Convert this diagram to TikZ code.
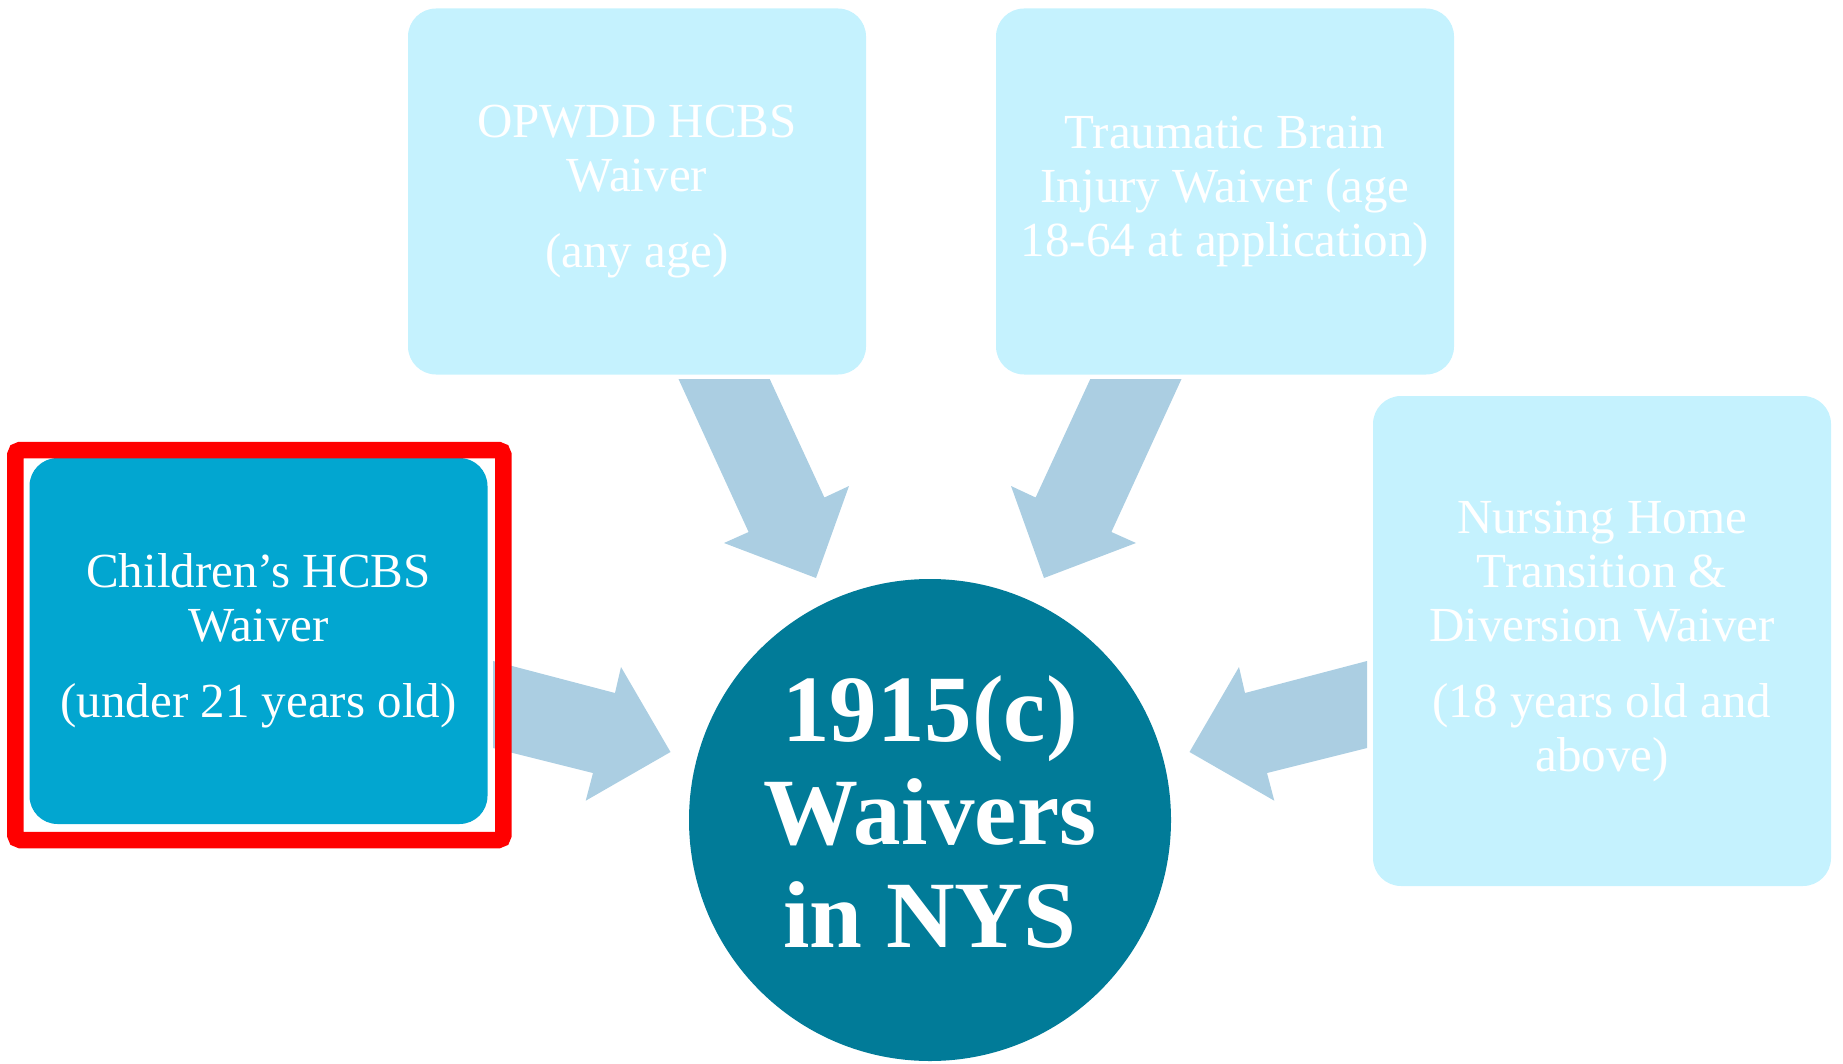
\documentclass[tikz,border=0pt]{standalone}
\usepackage{fontspec}
\setmainfont{Liberation Serif}
\definecolor{lightbox}{RGB}{197,242,254}
\definecolor{childbox}{RGB}{2,166,208}
\definecolor{hubcol}{RGB}{1,123,152}
\definecolor{arrowcol}{RGB}{171,206,226}
\definecolor{framered}{RGB}{255,0,0}
\tikzset{
  wbox/.style={fill=lightbox, rounded corners=28pt, minimum width=458pt, minimum height=366pt,
    text=white, align=center, inner sep=0pt,
    font=\fontsize{49}{54}\selectfont},
  cbox/.style={wbox, fill=childbox},
  hub/.style={circle, fill=hubcol, minimum size=482pt, inner sep=0pt},
  hubtext/.style={text=white, align=center, inner sep=0pt,
    font=\fontsize{95}{103}\selectfont\bfseries},
  blockarrow/.style={fill=arrowcol},
}
\begin{document}
\begin{tikzpicture}[x=1pt,y=-1pt]
\useasboundingbox (0,0) rectangle (1843,1064);
% block arrows
\fill[blockarrow] (678.5,379) -- (769.7,379) -- (824.4,497.5) -- (849,486) -- (816,578) -- (724,543) -- (748.6,532) -- cycle;
\fill[blockarrow] (1181.5,379) -- (1090.3,379) -- (1035.6,497.5) -- (1011,486) -- (1044,578) -- (1136,543) -- (1111.4,532) -- cycle;
\fill[blockarrow] (493,661) -- (615,693) -- (621,667) -- (670.5,752) -- (585.7,800.7) -- (593,773) -- (493,748) -- cycle;
\fill[blockarrow] (1367,661) -- (1245,693) -- (1239,667) -- (1189.5,752) -- (1274.3,800.7) -- (1267,773) -- (1367,748) -- cycle;
% boxes
\node[wbox] (opwdd) at (637,191.5) {OPWDD HCBS\\Waiver\\[22pt](any age)};
\node[wbox] (tbi) at (1225,191.5) {Traumatic Brain\\Injury Waiver (age\\18-64 at application)};
\node[wbox, minimum height=490pt] (nh) at (1602,641) {Nursing Home\\Transition \&\\Diversion Waiver\\[22pt](18 years old and\\above)};
\node[cbox] (child) at (258.5,641) {Children’s HCBS\\Waiver\\[22pt](under 21 years old)};
% highlight frame
\draw[framered, line width=16.5pt, rounded corners=5pt] (15.3,450) rectangle (503.4,840);
% hub
\node[hub] (hubnode) at (930,820) {};
\node[hubtext] (hublabel) at (930,812) {1915(c)\\Waivers\\in NYS};
\end{tikzpicture}
\end{document}
